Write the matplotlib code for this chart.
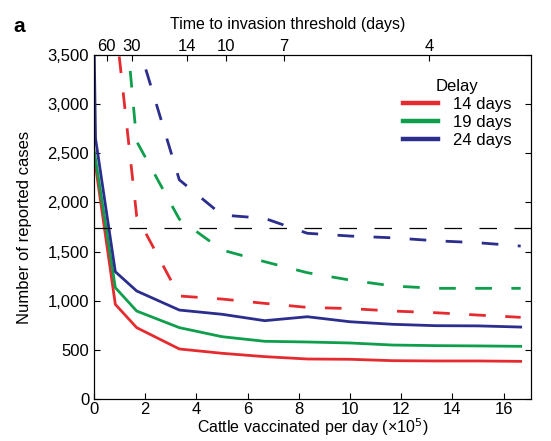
import matplotlib
matplotlib.use("Agg")
import matplotlib.pyplot as plt
from matplotlib.ticker import FuncFormatter

plt.rcParams['font.family'] = ['Liberation Sans', 'DejaVu Sans']

# cattle vaccinated per day (x10^5)
x_vals = [0, 0.833, 1.667, 3.333, 5, 6.667, 8.333, 10, 11.667, 13.333, 15, 16.667]

# solid lines
red_solid = [2480, 963, 726, 509, 465, 431, 407, 404, 390, 387, 387, 383]
green_solid = [2540, 1133, 895, 726, 634, 587, 580, 570, 549, 543, 540, 536]
blue_solid_x = [0, 0.06, 0.833, 1.667, 3.333, 5, 6.667, 8.333, 10, 11.667, 13.333, 15, 16.667]
blue_solid = [3700, 2650, 1295, 1099, 905, 862, 797, 837, 786, 760, 746, 744, 732]

# dashed lines (start at x = 0.833)
dash_x = x_vals[1:]
red_dashed = [3850, 1860, 1048, 1017, 973, 932, 920, 895, 878, 854, 831]
green_dashed = [5000, 2620, 1830, 1516, 1397, 1285, 1210, 1150, 1126, 1126, 1126]
blue_dashed = [5200, 3660, 2230, 1872, 1838, 1686, 1658, 1640, 1610, 1590, 1556]

threshold = 1740

top_tick_x = [0.5, 1.48, 3.63, 5.16, 7.42, 13.1]
top_tick_labels = ['60', '30', '14', '10', '7', '4']

c_red = '#e52b2f'
c_green = '#0f9e4c'
c_blue = '#2b2e8c'

fig = plt.figure(figsize=(5.51, 4.41), dpi=100)
ax = fig.add_axes([94/551, 1 - 399/441, (531-94)/551, (399-55)/441])

lw = 2.0
dash = (6, 7)
ax.plot(x_vals, red_solid, color=c_red, lw=lw, label='14 days')
ax.plot(x_vals, green_solid, color=c_green, lw=lw, label='19 days')
ax.plot(blue_solid_x, blue_solid, color=c_blue, lw=lw, label='24 days')
ax.plot(dash_x, red_dashed, color=c_red, lw=lw, dashes=dash)
ax.plot(dash_x, green_dashed, color=c_green, lw=lw, dashes=dash)
ax.plot(dash_x, blue_dashed, color=c_blue, lw=lw, dashes=dash)
ax.axhline(threshold, color='black', lw=0.9, dashes=(14, 14))

ax.set_xlim(0, 17.07)
ax.set_ylim(0, 3500)
ax.set_xticks(range(0, 17, 2))
ax.set_yticks(range(0, 3501, 500))
ax.yaxis.set_major_formatter(FuncFormatter(lambda v, p: f'{int(v):,}'))
ax.tick_params(direction='in', length=4, labelsize=12, right=True)
ax.tick_params(axis='x', pad=2)
ax.set_xlabel('Cattle vaccinated per day (×10$^5$)', fontsize=11.5, labelpad=0)
ax.set_ylabel('Number of reported cases', fontsize=12, labelpad=11)

top = ax.twiny()
top.set_xlim(ax.get_xlim())
top.set_xticks(top_tick_x)
top.set_xticklabels(top_tick_labels)
top.tick_params(direction='in', length=4, labelsize=12, pad=1)
top.set_xlabel('Time to invasion threshold (days)', fontsize=11.5)
top.xaxis.set_label_coords(0.444, 1.075)

leg = ax.legend(title='Delay', loc='upper left', bbox_to_anchor=(0.68, 0.965),
                frameon=False, fontsize=12, title_fontsize=12, handlelength=2.1,
                handletextpad=0.9, labelspacing=0.18, borderpad=0.2)
for h in leg.get_lines():
    h.set_linewidth(3.2)

fig.text(13/551, 1 - 27/441, 'a', fontsize=15, fontweight='bold', va='center')

fig.savefig('out.png', dpi=100)
